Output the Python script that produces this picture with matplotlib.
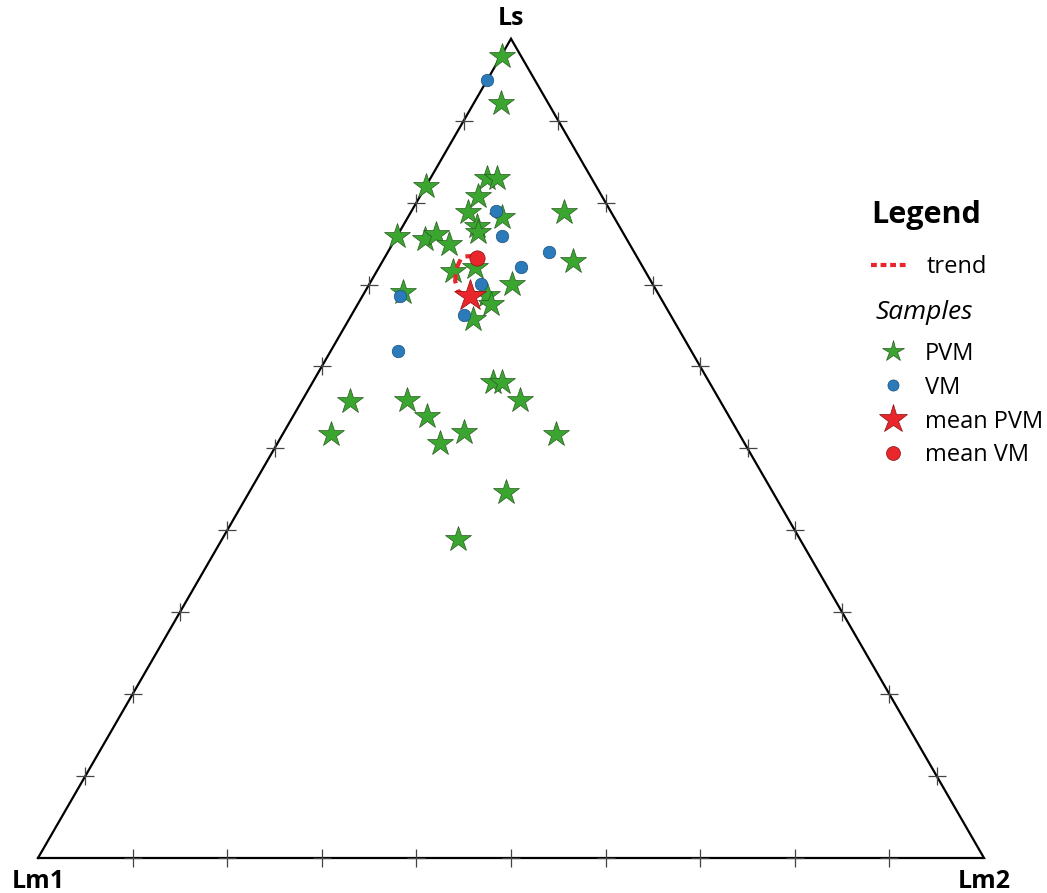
import matplotlib.pyplot as plt
import numpy as np
from matplotlib.lines import Line2D

plt.rcParams["font.family"] = ["Open Sans", "DejaVu Sans"]

# composições em % (Ls, Lm2); Lm1 = 100 - Ls - Lm2
pvm_ls = [97.9, 92.1, 82.0, 83.0, 83.0, 80.8, 78.9, 78.2, 77.1, 76.4, 78.9,
          75.9, 75.6, 76.2, 74.9, 72.9, 71.6, 72.1, 70.1, 69.1, 68.7, 67.6,
          65.8, 55.8, 51.8, 55.9, 53.9, 50.7, 52.0, 58.1, 58.1, 55.9, 51.8,
          44.7, 38.9]
pvm_lm2 = [0.1, 2.9, 0.0, 6.0, 7.0, 6.1, 6.0, 9.9, 7.9, 8.3, 16.1,
           0.0, 3.1, 4.0, 6.0, 20.1, 8.1, 10.1, 15.1, 4.0, 13.1, 14.1,
           13.1, 5.1, 5.1, 11.1, 14.2, 17.1, 19.0, 19.1, 20.0, 23.0, 28.9,
           27.1, 25.0]

vm_ls = [95.0, 79.0, 75.9, 74.0, 72.1, 70.1, 68.6, 66.3, 61.9]
vm_lm2 = [0.0, 8.9, 11.1, 17.0, 15.0, 11.8, 4.0, 11.9, 7.1]

mean_pvm = (68.6, 11.4)
mean_vm = (73.2, 9.8)

trend_ls = [73.5, 73.4, 71.9, 70.4, 69.1, 68.6]
trend_lm2 = [9.4, 8.1, 8.25, 8.9, 9.9, 11.4]

vertices = ["Lm1", "Lm2", "Ls"]
tick_steps = np.arange(10, 100, 10)

H = np.sqrt(3) / 2


def _xy(ls, lm2):
    ls = np.asarray(ls, dtype=float) / 100
    lm2 = np.asarray(lm2, dtype=float) / 100
    return lm2 + ls / 2, ls * H


fig = plt.figure(figsize=(10.47, 8.93), dpi=100)
ax = fig.add_axes([0, 0, 1, 1])
ax.set_xlim(-38 / 946, (1047 - 38) / 946)
ax.set_ylim(-(893 - 858) / 946, 858 / 946)
ax.set_aspect("equal")
ax.axis("off")

# triângulo
ax.plot([0, 1, 0.5, 0], [0, 0, H, 0], color="black", linewidth=1.6,
        solid_joinstyle="miter", zorder=2)

# marcas a cada 10 %
t = tick_steps / 100
tick_x = np.concatenate([t, t / 2, 1 - t / 2])
tick_y = np.concatenate([np.zeros_like(t), t * H, t * H])
ax.plot(tick_x, tick_y, linestyle="none", marker="+", markersize=13,
        markeredgewidth=0.9, color="#444444", zorder=2)

# rótulos dos vértices
label_kw = dict(fontsize=18, fontweight="bold", ha="center", va="center")
ax.text(0, -0.025, vertices[0], **label_kw)
ax.text(1, -0.025, vertices[1], **label_kw)
ax.text(0.5, H + 0.021, vertices[2], **label_kw)

green = "#3aa52f"
blue = "#2b7bba"
red = "#e8262b"

x, y = _xy(pvm_ls, pvm_lm2)
ax.plot(x, y, linestyle="none", marker="*", markersize=19, color=green,
        markeredgecolor="#2a5a22", markeredgewidth=0.5, zorder=3)
x, y = _xy(vm_ls, vm_lm2)
ax.plot(x, y, linestyle="none", marker="o", markersize=9, color=blue,
        markeredgecolor="#1d4f7a", markeredgewidth=0.5, zorder=4)

x, y = _xy(trend_ls, trend_lm2)
ax.plot(x, y, color=red, linewidth=3, linestyle=(0, (2.2, 1.6)), zorder=5)
x, y = _xy(*mean_pvm)
ax.plot(x, y, linestyle="none", marker="*", markersize=24, color=red,
        markeredgecolor="#8a1010", markeredgewidth=0.5, zorder=6)
x, y = _xy(*mean_vm)
ax.plot(x, y, linestyle="none", marker="o", markersize=11, color=red,
        markeredgecolor="#8a1010", markeredgewidth=0.5, zorder=6)

# legenda
h_trend = Line2D([], [], color=red, linewidth=3, linestyle=(0, (1.4, 0.9)))
leg1 = fig.legend([h_trend], ["trend"], loc="upper left",
                  bbox_to_anchor=(0.832, 0.776), frameon=False, fontsize=17,
                  title="Legend", handlelength=1.5, handletextpad=0.85,
                  borderpad=0, borderaxespad=0, labelspacing=1.05,
                  title_fontproperties={"size": 22, "weight": "bold"},
                  alignment="left")

handles = [
    Line2D([], [], linestyle="none", marker="*", markersize=16, color=green,
           markeredgecolor="#2a5a22", markeredgewidth=0.5),
    Line2D([], [], linestyle="none", marker="o", markersize=8, color=blue,
           markeredgecolor="#1d4f7a", markeredgewidth=0.5),
    Line2D([], [], linestyle="none", marker="*", markersize=21, color=red,
           markeredgecolor="#8a1010", markeredgewidth=0.5),
    Line2D([], [], linestyle="none", marker="o", markersize=10, color=red,
           markeredgecolor="#8a1010", markeredgewidth=0.5),
]
leg2 = fig.legend(handles, ["PVM", "VM", "mean PVM", "mean VM"],
                  loc="upper left", bbox_to_anchor=(0.836, 0.664),
                  frameon=False, fontsize=17, title="Samples",
                  labelspacing=0.42, handlelength=1.5, handletextpad=0.6,
                  borderpad=0, borderaxespad=0,
                  title_fontproperties={"size": 19, "style": "italic"},
                  alignment="left")
# espaço extra entre o título "Samples" e a primeira entrada
leg2._legend_box.sep = 12

fig.savefig("out.png", dpi=100)
